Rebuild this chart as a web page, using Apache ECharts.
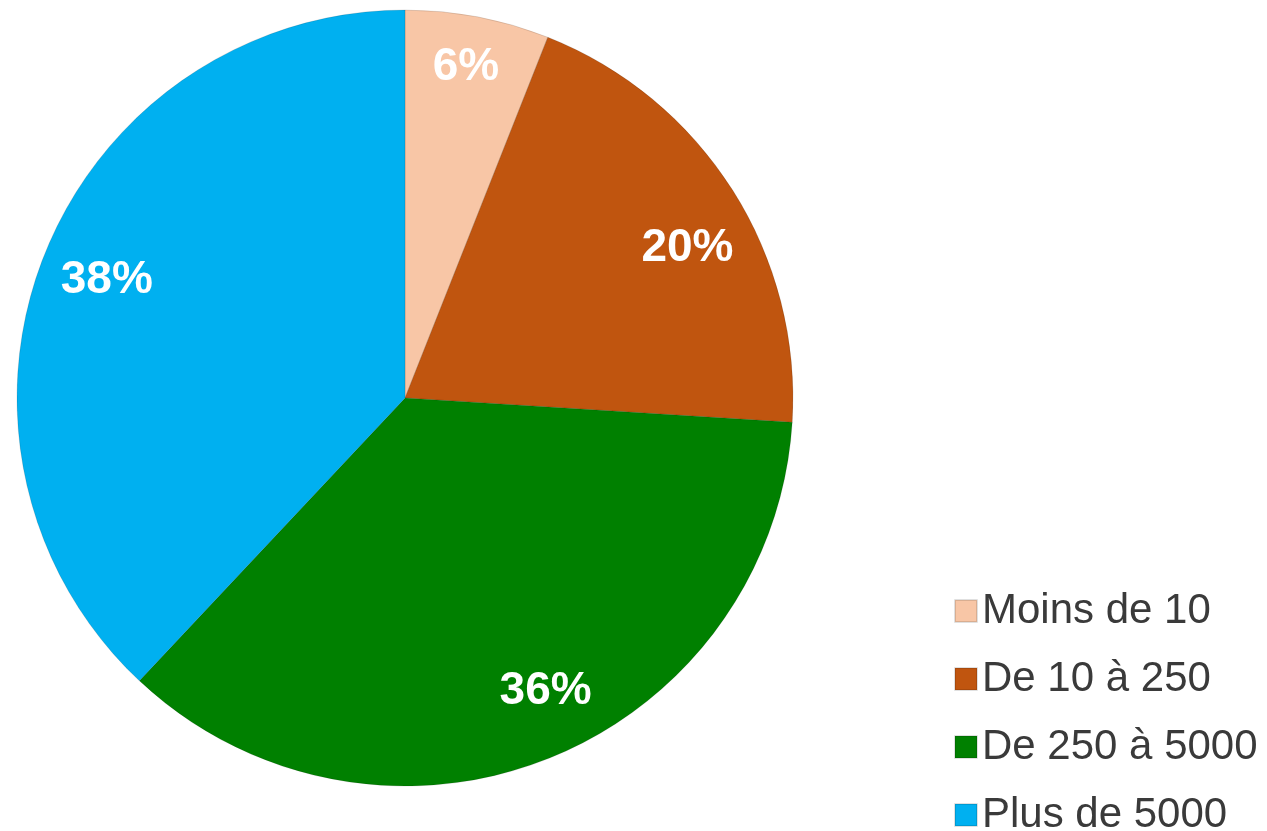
<!DOCTYPE html>
<html>
<head>
<meta charset="utf-8">
<script src="https://cdn.jsdelivr.net/npm/echarts@6/dist/echarts.min.js"></script>
<style>
html,body{margin:0;padding:0;background:#fff;}
#chart{width:1267px;height:831px;}
</style>
</head>
<body>
<div id="chart"></div>
<script>
const categories = ['Moins de 10', 'De 10 à 250', 'De 250 à 5000', 'Plus de 5000'];
const values = [6, 20, 36, 38];
const colors = ['#F8C6A6', '#C0550F', '#008000', '#00B0F0'];

const chart = echarts.init(document.getElementById('chart'));
const data = categories.map((c, i) => ({name: c, value: values[i], itemStyle: {color: colors[i]}}));
// label nudges: horizontal padding, vertical spacer (negative = spacer above -> moves label down)
const labelPadX = [[0, 0], [0, 16], [0, 42], [0, 8]];
const labelGap = [22, -48, 18, -4];
const R = 388;
function labelFor(i) {
  const g = labelGap[i];
  let fmt = '{v|' + values[i] + '%}';
  if (g > 0) fmt = fmt + '\n{g| }';
  else if (g < 0) fmt = '{g| }\n' + fmt;
  return {
    formatter: fmt,
    padding: [0, labelPadX[i][0], 0, labelPadX[i][1]],
    rich: {
      v: {color: '#fff', fontSize: 46, fontWeight: 'bold', fontFamily: 'Liberation Sans, Arial, sans-serif', lineHeight: 50},
      g: {fontSize: 2, height: Math.abs(g), lineHeight: Math.abs(g)}
    }
  };
}
chart.setOption({
  animation: false,
  legend: {
    orient: 'vertical',
    left: 949,
    top: 584,
    height: 300,
    itemWidth: 22,
    itemHeight: 22,
    itemGap: 24,
    icon: 'rect',
    data: categories,
    textStyle: {fontFamily: 'Liberation Sans, Arial, sans-serif', fontSize: 42, color: '#3a3a3a', lineHeight: 44, padding: [0,0,0,0]}
  },
  series: [
    {
      type: 'pie',
      center: [405, 398],
      radius: [0, R],
      startAngle: 90,
      clockwise: true,
      label: {show: false},
      labelLine: {show: false},
      itemStyle: {borderColor: 'rgba(0,0,0,0.12)', borderWidth: 1},
      emphasis: {disabled: true},
      data: data
    },
    {
      type: 'pie',
      center: [405, 398],
      radius: [R * 0.66, R],
      startAngle: 90,
      clockwise: true,
      silent: true,
      legendHoverLink: false,
      itemStyle: {color: 'rgba(0,0,0,0)'},
      label: {show: true, position: 'inside'},
      labelLine: {show: false},
      emphasis: {disabled: true},
      data: categories.map((c, i) => ({name: c + ' ', value: values[i], label: labelFor(i)}))
    }
  ]
});
</script>
</body>
</html>
